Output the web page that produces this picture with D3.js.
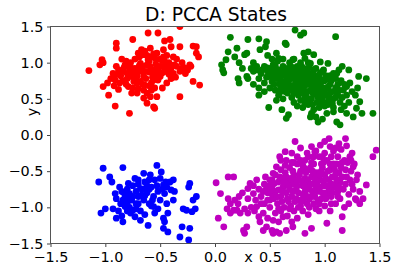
<!DOCTYPE html>
<html>
<head>
<meta charset="utf-8">
<script src="https://cdn.jsdelivr.net/npm/d3@7"></script>
<style>
html,body{margin:0;padding:0;background:#fff;}
svg{display:block;font-family:"DejaVu Sans",sans-serif;}
</style>
</head>
<body>
<svg id="chart" width="399" height="273"></svg>
<script>
const title = "D: PCCA States";
const xTicks = [-1.5, -1.0, -0.5, 0.0, 0.5, 1.0, 1.5];
const yTicks = [-1.5, -1.0, -0.5, 0.0, 0.5, 1.0, 1.5];
const seriesColors = ["#ff0000", "#008000", "#0000ff", "#bf00bf"];

const red = [
[-1.15,0.89],[-1.03,1.04],[-1.05,0.97],[-1.02,1.00],[-1.02,0.67],[-0.97,0.55],[-0.91,0.40],[-0.90,1.27],[-0.90,1.20],
[-0.91,0.83],[-0.91,0.76],[-0.88,0.63],[-0.87,0.72],[-0.84,0.88],[-0.82,0.97],[-0.81,1.02],[-0.78,0.30],[-0.79,0.67],
[-0.76,0.81],[-0.75,1.32],[-0.73,0.92],[-0.71,0.72],[-0.71,0.58],[-0.70,1.13],[-0.68,0.99],[-0.67,1.18],[-0.65,1.11],
[-0.67,0.88],[-0.65,0.81],[-0.64,0.69],[-0.62,0.97],[-0.61,1.41],[-0.61,1.04],[-0.59,1.20],[-0.58,1.08],[-0.56,0.90],
[-0.56,0.76],[-0.55,0.65],[-0.53,0.53],[-0.56,0.39],[-0.55,0.37],[-0.53,1.13],[-0.52,1.41],[-0.50,0.95],[-0.50,0.81],
[-0.49,1.04],[-0.47,1.18],[-0.47,1.08],[-0.46,1.02],[-0.44,0.88],[-0.43,0.90],[-0.41,1.32],[-0.40,1.22],[-0.38,1.08],
[-0.37,0.97],[-0.35,0.95],[-0.32,1.50],[-0.32,1.22],[-0.32,0.88],[-0.30,0.92],[-0.32,0.53],[-0.27,0.85],[-0.20,1.23],
[-0.20,0.74],[-0.17,1.22],[-0.17,1.13],[-0.15,1.08],[-0.14,0.69],[-0.23,0.97],[-0.44,0.72],[-0.58,0.62],[-0.76,0.58],
[-0.65,0.51],[-0.59,0.53],[-0.62,0.44],[-0.52,0.76],
[-0.83,0.93],[-0.78,0.88],[-0.74,0.85],[-0.70,0.90],[-0.66,0.95],[-0.60,0.87],[-0.55,0.83],[-0.52,0.90],[-0.48,0.86],
[-0.45,0.95],[-0.42,1.00],[-0.40,0.93],[-0.38,0.85],[-0.72,0.78],[-0.68,0.74],[-0.63,0.78],[-0.58,0.72],[-0.54,0.98],
[-0.50,1.05],[-0.80,0.78],[-0.86,0.82],[-0.88,0.90],[-0.93,0.85],[-0.95,0.78],[-0.98,0.72],[-0.92,0.68],[-0.77,1.00],
[-0.73,1.05],[-0.69,1.08],[-0.60,1.02],[-0.56,1.12],[-0.44,1.10],[-0.35,1.05],[-0.30,1.00],[-0.28,0.93],[-0.25,0.90],
[-0.22,0.95],[-0.81,0.70],[-0.75,0.65],[-0.65,0.62],[-0.62,0.58],[-0.48,0.65],[-0.40,0.78],[-0.36,0.80],[-0.90,0.95],
[-0.85,1.05],[-0.64,1.16],[-0.46,1.30],[-0.70,0.64],[-0.84,0.75],
[-0.80,0.85],[-0.76,0.92],[-0.71,0.82],[-0.69,0.96],[-0.63,0.88],[-0.59,0.94],[-0.57,0.80],[-0.53,0.86],[-0.49,0.95],
[-0.46,0.88],[-0.42,0.84],[-0.54,1.05],[-0.62,1.10],[-0.74,0.74],[-0.66,0.70],[-0.60,0.68],[-0.78,0.95],[-0.86,0.88]
];

const green = [
[0.14,1.35],[0.10,1.04],[0.06,0.97],[0.07,0.90],[0.08,0.86],[0.20,1.20],[0.21,0.78],[0.22,0.72],[0.29,0.81],[0.30,0.78],
[0.27,1.11],[0.29,1.13],[0.30,1.32],[0.40,1.33],[0.41,1.18],[0.46,1.22],[0.47,1.29],[0.35,1.00],[0.38,0.90],[0.40,0.65],
[0.49,0.38],[0.56,0.48],[0.61,0.35],[0.65,0.23],[0.67,0.28],[0.73,1.45],[0.78,1.38],[0.81,1.41],[0.64,1.27],[0.65,1.25],
[0.56,1.13],[0.58,1.06],[0.53,0.97],[0.52,0.88],[0.71,1.04],[0.75,0.95],[0.81,1.13],[0.82,1.06],[0.85,1.15],[0.87,0.99],
[0.90,1.11],[0.96,1.01],[0.99,0.90],[1.03,0.99],[1.10,1.36],[1.08,0.85],[1.13,0.90],[1.16,0.95],[1.22,0.90],[1.23,0.72],
[1.20,0.67],[1.31,0.81],[1.38,0.78],[1.32,0.46],[1.29,0.37],[1.34,0.30],[1.44,0.30],[1.26,0.25],[1.11,0.18],[1.14,0.14],
[0.94,0.18],[0.87,0.25],[1.02,0.30],[1.08,0.32],
[0.45,0.95],[0.48,0.88],[0.50,0.92],[0.52,0.80],[0.55,0.85],[0.55,0.95],[0.58,0.90],[0.60,0.82],[0.60,0.75],[0.62,0.95],
[0.63,0.88],[0.65,0.80],[0.65,0.70],[0.67,0.92],[0.68,0.85],[0.70,0.78],[0.70,0.68],[0.72,0.88],[0.73,0.82],[0.74,0.74],
[0.75,0.65],[0.76,0.90],[0.77,0.80],[0.78,0.72],[0.79,0.60],[0.80,0.85],[0.81,0.76],[0.82,0.68],[0.83,0.55],[0.84,0.90],
[0.85,0.80],[0.86,0.72],[0.87,0.62],[0.88,0.50],[0.89,0.85],[0.90,0.75],[0.91,0.66],[0.92,0.56],[0.93,0.45],[0.95,0.80],
[0.96,0.70],[0.97,0.60],[0.98,0.50],[1.00,0.75],[1.01,0.65],[1.02,0.55],[1.03,0.42],[1.05,0.70],[1.06,0.60],[1.08,0.50],
[1.10,0.65],[1.12,0.55],[1.14,0.45],[1.15,0.75],[1.17,0.62],[1.18,0.40],[1.20,0.55],[1.22,0.45],[0.42,0.85],[0.40,0.78],
[0.38,0.95],[0.35,0.88],[0.33,0.92],[0.45,0.72],[0.50,0.65],[0.55,0.62],[0.58,0.55],[0.62,0.50],[0.66,0.58],[0.70,0.52],
[0.72,0.45],[0.75,0.40],[0.78,0.48],[0.80,0.38],[0.85,0.42],[0.90,0.35],[0.95,0.38],[0.68,1.00],[0.72,1.05],[0.78,1.00],
[0.62,1.05],[0.57,1.02],[0.52,1.05],[0.48,1.10],[0.85,1.00],[0.92,0.92],[0.98,0.88],[1.05,0.82],[1.10,0.78],[1.25,0.60],
[1.28,0.55],[1.30,0.65],[1.15,0.35],[1.20,0.30],[1.08,0.38],[0.60,0.65],[0.64,0.60],[0.68,0.62],[0.72,0.58],[0.76,0.55],
[0.82,0.45],[0.88,0.30],[0.92,0.25],[0.98,0.22],[0.45,0.60],[0.40,0.55],[0.35,0.70],[0.25,0.92],[0.22,1.00],[0.18,1.08],
[0.12,1.15],[0.58,0.78],[0.63,0.72],[0.69,0.95],[0.74,0.92],[0.79,0.88],[0.83,0.82],[0.87,0.78],[0.93,0.72],[0.97,0.66],
[1.04,0.52],[1.12,0.70],[0.54,0.70],[0.47,0.80],[0.88,0.68],[0.94,0.62],[0.99,0.58],[1.02,0.78],[0.70,0.88],[0.66,0.76],
[0.56,0.78],[0.59,0.70],[0.61,0.88],[0.64,0.66],[0.66,0.84],[0.67,0.72],[0.69,0.82],[0.71,0.62],[0.71,0.93],[0.73,0.70],
[0.75,0.84],[0.76,0.60],[0.77,0.68],[0.79,0.78],[0.80,0.65],[0.81,0.92],[0.83,0.74],[0.84,0.60],[0.85,0.86],[0.86,0.50],
[0.87,0.70],[0.88,0.80],[0.89,0.58],[0.90,0.90],[0.91,0.70],[0.92,0.82],[0.93,0.62],[0.94,0.52],[0.95,0.74],[0.96,0.86],
[0.97,0.55],[0.98,0.76],[0.99,0.45],[1.00,0.62],[1.01,0.82],[1.03,0.66],[1.04,0.48],[1.05,0.58],[1.06,0.75],[1.07,0.44],
[1.09,0.60],[1.10,0.52],[1.11,0.85],[1.13,0.62],[1.16,0.52],[1.18,0.70],[0.62,0.84],[0.57,0.86],[0.53,0.90],[0.50,0.85],
[0.47,0.93],[0.43,0.90],[0.64,0.92],[0.68,0.68],[0.74,0.64],[0.78,0.58],[0.82,0.52],[0.84,0.48],[0.89,0.42],[0.96,0.46],
[1.00,0.40],[0.79,0.95],[0.86,0.94],[0.60,0.60],[0.52,0.74]
];

const blue = [
[-1.06,-0.65],[-1.02,-0.46],[-1.04,-1.08],[-1.00,-1.02],[-0.96,-0.58],[-0.94,-0.65],[-0.91,-0.81],[-0.93,-1.02],[-0.90,-1.15],
[-0.84,-0.45],[-0.87,-0.72],[-0.85,-0.78],[-0.84,-0.90],[-0.82,-0.99],[-0.84,-1.20],[-0.79,-0.67],[-0.78,-0.81],[-0.76,-0.90],
[-0.75,-1.04],[-0.73,-1.13],[-0.70,-0.62],[-0.68,-0.74],[-0.67,-0.83],[-0.65,-0.53],[-0.64,-0.65],[-0.68,-1.18],[-0.61,-1.25],
[-0.59,-0.55],[-0.58,-0.72],[-0.56,-0.85],[-0.56,-0.99],[-0.55,-1.08],[-0.53,-0.42],[-0.50,-0.60],[-0.49,-0.51],[-0.47,-0.69],
[-0.46,-0.81],[-0.44,-0.95],[-0.43,-1.08],[-0.47,-1.15],[-0.46,-1.20],[-0.41,-0.65],[-0.38,-0.62],[-0.40,-0.76],[-0.37,-0.78],
[-0.38,-0.90],[-0.44,-0.72],[-0.47,-1.29],[-0.43,-1.34],[-0.32,-1.41],[-0.30,-1.27],[-0.24,-1.45],[-0.23,-1.29],[-0.29,-1.02],
[-0.26,-1.04],[-0.21,-1.06],[-0.18,-1.02],[-0.20,-0.90],[-0.17,-0.85],[-0.23,-0.67],[-0.24,-0.72],
[-0.80,-0.75],[-0.75,-0.70],[-0.72,-0.78],[-0.70,-0.85],[-0.65,-0.90],[-0.62,-0.80],[-0.60,-0.95],[-0.80,-0.95],[-0.78,-1.00],
[-0.72,-0.95],[-0.68,-1.05],[-0.62,-0.70],[-0.55,-0.62],[-0.52,-0.78],[-0.50,-0.90],[-0.82,-0.85],[-0.86,-0.95],[-0.88,-1.05],
[-0.77,-1.08],[-0.70,-0.68],[-0.66,-0.75],[-0.58,-0.98],[-0.52,-1.02],[-0.45,-0.65],[-0.85,-1.12],[-0.90,-0.88],[-0.73,-0.60],
[-0.64,-1.10],[-0.60,-0.62],[-0.53,-0.70],[-0.80,-0.88],
[-0.83,-0.80],[-0.75,-0.85],[-0.70,-0.95],[-0.64,-0.84],[-0.60,-0.75],[-0.57,-0.90],[-0.48,-0.75],[-0.72,-1.02],[-0.80,-1.05]
];

const magenta = [
[0.01,-0.66],[0.05,-0.81],[0.03,-1.15],[0.08,-1.27],[0.12,-0.58],[0.17,-0.58],[0.14,-0.95],[0.11,-1.02],[0.14,-1.08],[0.17,-1.04],
[0.21,-0.95],[0.20,-1.04],[0.23,-1.08],[0.27,-1.02],[0.30,-1.08],[0.26,-1.32],[0.27,-1.36],[0.29,-1.27],[0.32,-0.67],[0.30,-0.74],
[0.35,-0.81],[0.37,-0.90],[0.38,-0.99],[0.40,-1.13],[0.41,-1.20],[0.44,-1.32],[0.47,-1.27],[0.52,-1.32],[0.53,-1.36],[0.56,-1.34],
[0.47,-0.72],[0.52,-0.62],[0.53,-0.53],[0.50,-0.90],[0.55,-1.08],[0.58,-1.20],[0.62,-1.13],[0.56,-0.44],[0.59,-0.30],[0.64,-0.23],
[0.65,-0.35],[0.73,-0.09],[0.75,-0.30],[0.78,-0.18],[0.84,-0.25],[0.88,-0.16],[0.91,-0.23],[0.96,-0.14],[1.00,-0.09],[1.04,-0.05],
[1.05,-0.16],[1.10,-0.18],[1.19,-0.05],[1.13,-0.12],[1.23,-0.30],[1.26,-0.44],[1.29,-0.62],[1.32,-0.78],[1.38,-0.69],[1.35,-0.88],
[1.29,-0.90],[1.44,-0.30],[1.47,-0.21],[1.16,-1.13],[1.16,-1.32],[1.02,-1.22],[0.88,-1.29],[0.82,-1.36],[0.71,-1.27],[0.65,-1.32],
[0.59,-1.36],
[0.40,-0.75],[0.42,-0.85],[0.45,-0.68],[0.45,-0.95],[0.48,-0.80],[0.50,-0.62],[0.50,-1.00],[0.52,-0.72],[0.53,-0.88],[0.55,-0.55],
[0.55,-0.78],[0.57,-0.95],[0.58,-0.65],[0.60,-0.85],[0.60,-0.48],[0.62,-0.72],[0.63,-1.00],[0.65,-0.58],[0.65,-0.80],[0.67,-0.92],
[0.68,-0.45],[0.70,-0.68],[0.70,-0.85],[0.72,-0.55],[0.72,-1.05],[0.74,-0.75],[0.75,-0.40],[0.76,-0.62],[0.77,-0.90],[0.78,-0.50],
[0.80,-0.70],[0.80,-0.82],[0.82,-0.35],[0.82,-0.60],[0.84,-0.95],[0.85,-0.48],[0.86,-0.75],[0.88,-0.58],[0.88,-0.85],[0.90,-0.40],
[0.90,-0.68],[0.92,-1.02],[0.93,-0.52],[0.94,-0.78],[0.95,-0.30],[0.96,-0.62],[0.97,-0.88],[0.98,-0.45],[1.00,-0.70],[1.00,-0.55],
[1.02,-0.35],[1.02,-0.82],[1.04,-0.62],[1.05,-0.48],[1.06,-0.95],[1.08,-0.40],[1.08,-0.72],[1.10,-0.55],[1.12,-0.30],[1.12,-0.85],
[1.14,-0.65],[1.15,-0.45],[1.17,-0.75],[1.18,-0.35],[1.20,-0.58],[1.22,-0.82],[1.24,-0.50],[1.25,-0.68],[1.27,-0.40],[1.30,-0.55],
[0.35,-0.70],[0.38,-0.62],[0.30,-0.88],[0.25,-0.80],[0.22,-0.85],[0.18,-0.90],[0.12,-0.88],[0.33,-1.00],[0.36,-1.05],[0.44,-1.08],
[0.48,-1.15],[0.53,-1.18],[0.60,-1.05],[0.66,-1.12],[0.70,-1.20],[0.75,-1.15],[0.80,-1.05],[0.85,-1.10],[0.90,-0.95],[0.95,-1.05],
[1.00,-0.98],[1.05,-1.05],[1.10,-0.95],[1.18,-1.00],[1.22,-0.95],[1.28,-0.88],[1.32,-0.95],[0.60,-0.35],[0.70,-0.25],[0.78,-0.35],
[0.85,-0.30],[0.92,-0.22],[1.00,-0.25],[1.08,-0.22],[1.15,-0.20],[1.20,-0.15],[1.25,-0.25],[0.62,-0.60],[0.68,-0.75],[0.74,-0.88],
[0.78,-0.98],[0.84,-0.65],[0.90,-0.55],[0.96,-0.72],[1.04,-0.75],[1.10,-0.68],[0.66,-0.66],[0.72,-0.66],[0.82,-0.78],[0.86,-0.88],
[0.94,-0.90],[0.98,-0.80],[1.06,-0.85],[1.12,-0.78],[0.58,-0.76],[0.52,-0.82],
[0.46,-0.58],[0.49,-0.70],[0.51,-0.77],[0.54,-0.67],[0.56,-0.86],[0.59,-0.58],[0.61,-0.92],[0.63,-0.66],[0.64,-0.52],[0.66,-0.88],
[0.67,-0.70],[0.69,-0.60],[0.69,-0.98],[0.71,-0.50],[0.71,-0.78],[0.73,-0.92],[0.75,-0.70],[0.76,-0.80],[0.77,-0.55],[0.79,-0.63],
[0.79,-0.92],[0.81,-0.45],[0.81,-0.88],[0.83,-0.70],[0.83,-0.52],[0.85,-0.62],[0.87,-0.68],[0.87,-0.45],[0.89,-0.78],[0.89,-0.50],
[0.91,-0.60],[0.91,-0.85],[0.93,-0.68],[0.95,-0.55],[0.95,-0.95],[0.97,-0.50],[0.99,-0.65],[0.99,-0.38],[1.01,-0.60],[1.01,-0.88],
[1.03,-0.50],[1.03,-0.70],[1.05,-0.40],[1.07,-0.58],[1.07,-0.80],[1.09,-0.48],[1.11,-0.62],[1.11,-0.40],[1.13,-0.52],[1.13,-0.72],
[1.16,-0.58],[1.16,-0.38],[1.19,-0.48],[1.19,-0.68],[1.21,-0.38],[1.23,-0.62],[0.64,-0.42],[0.72,-0.38],[0.80,-0.42],[0.88,-0.38],
[0.97,-0.40],[1.06,-0.30],[0.76,-1.00],[0.68,-1.02],[0.58,-1.02],[0.86,-1.00],[0.44,-0.78],[0.42,-0.95],[0.48,-0.90],[0.62,-0.78],
[0.74,-0.62],[0.84,-0.85],[0.92,-0.75],[1.00,-0.80],[1.06,-0.68],[1.14,-0.88],[1.26,-0.75],[1.24,-0.35],[0.98,-0.30],[0.90,-0.30],
[0.70,-0.38]
];

const seriesData = [red, green, blue, magenta];

const svg = d3.select("#chart");
const plotLeft = 50.5, plotRight = 379.5, plotTop = 26.5, plotBottom = 243.5;

const x = d3.scaleLinear().domain([-1.5, 1.5]).range([plotLeft, plotRight]);
const y = d3.scaleLinear().domain([-1.5, 1.5]).range([plotBottom, plotTop]);

svg.append("defs").append("clipPath").attr("id", "clip")
  .append("rect").attr("x", plotLeft).attr("y", plotTop)
  .attr("width", plotRight - plotLeft).attr("height", plotBottom - plotTop);

const pts = svg.append("g").attr("clip-path", "url(#clip)");
seriesData.forEach((data, i) => {
  pts.append("g").selectAll("circle").data(data).join("circle")
    .attr("cx", d => x(d[0])).attr("cy", d => y(d[1]))
    .attr("r", 3.4).attr("fill", seriesColors[i]);
});

const fmt = d3.format(".1f");
const xAxis = svg.append("g").attr("transform", `translate(0,${plotBottom})`)
  .call(d3.axisBottom(x).tickValues(xTicks).tickFormat(fmt).tickSize(3.5).tickPadding(4.5).tickSizeOuter(0));
const yAxis = svg.append("g").attr("transform", `translate(${plotLeft},0)`)
  .call(d3.axisLeft(y).tickValues(yTicks).tickFormat(fmt).tickSize(3.5).tickPadding(3.5).tickSizeOuter(0));

[xAxis, yAxis].forEach(a => {
  a.select(".domain").remove();
  a.selectAll("line").attr("stroke", "#444").attr("stroke-width", 1);
  a.selectAll("text").attr("fill", "#000").style("font-size", "14.4px")
    .style("font-family", "'DejaVu Sans', sans-serif");
});

svg.append("rect").attr("x", plotLeft).attr("y", plotTop)
  .attr("width", plotRight - plotLeft).attr("height", plotBottom - plotTop)
  .attr("fill", "none").attr("stroke", "#555").attr("stroke-width", 1);

svg.append("text").attr("x", 216).attr("y", 21)
  .attr("text-anchor", "middle").style("font-size", "18.7px").text(title);

svg.append("text").attr("x", 248.5).attr("y", 262)
  .attr("text-anchor", "middle").style("font-size", "14.4px").text("x");

svg.append("text").attr("transform", "translate(37,112) rotate(-90)")
  .attr("text-anchor", "middle").style("font-size", "14.4px").text("y");
</script>
</body>
</html>
